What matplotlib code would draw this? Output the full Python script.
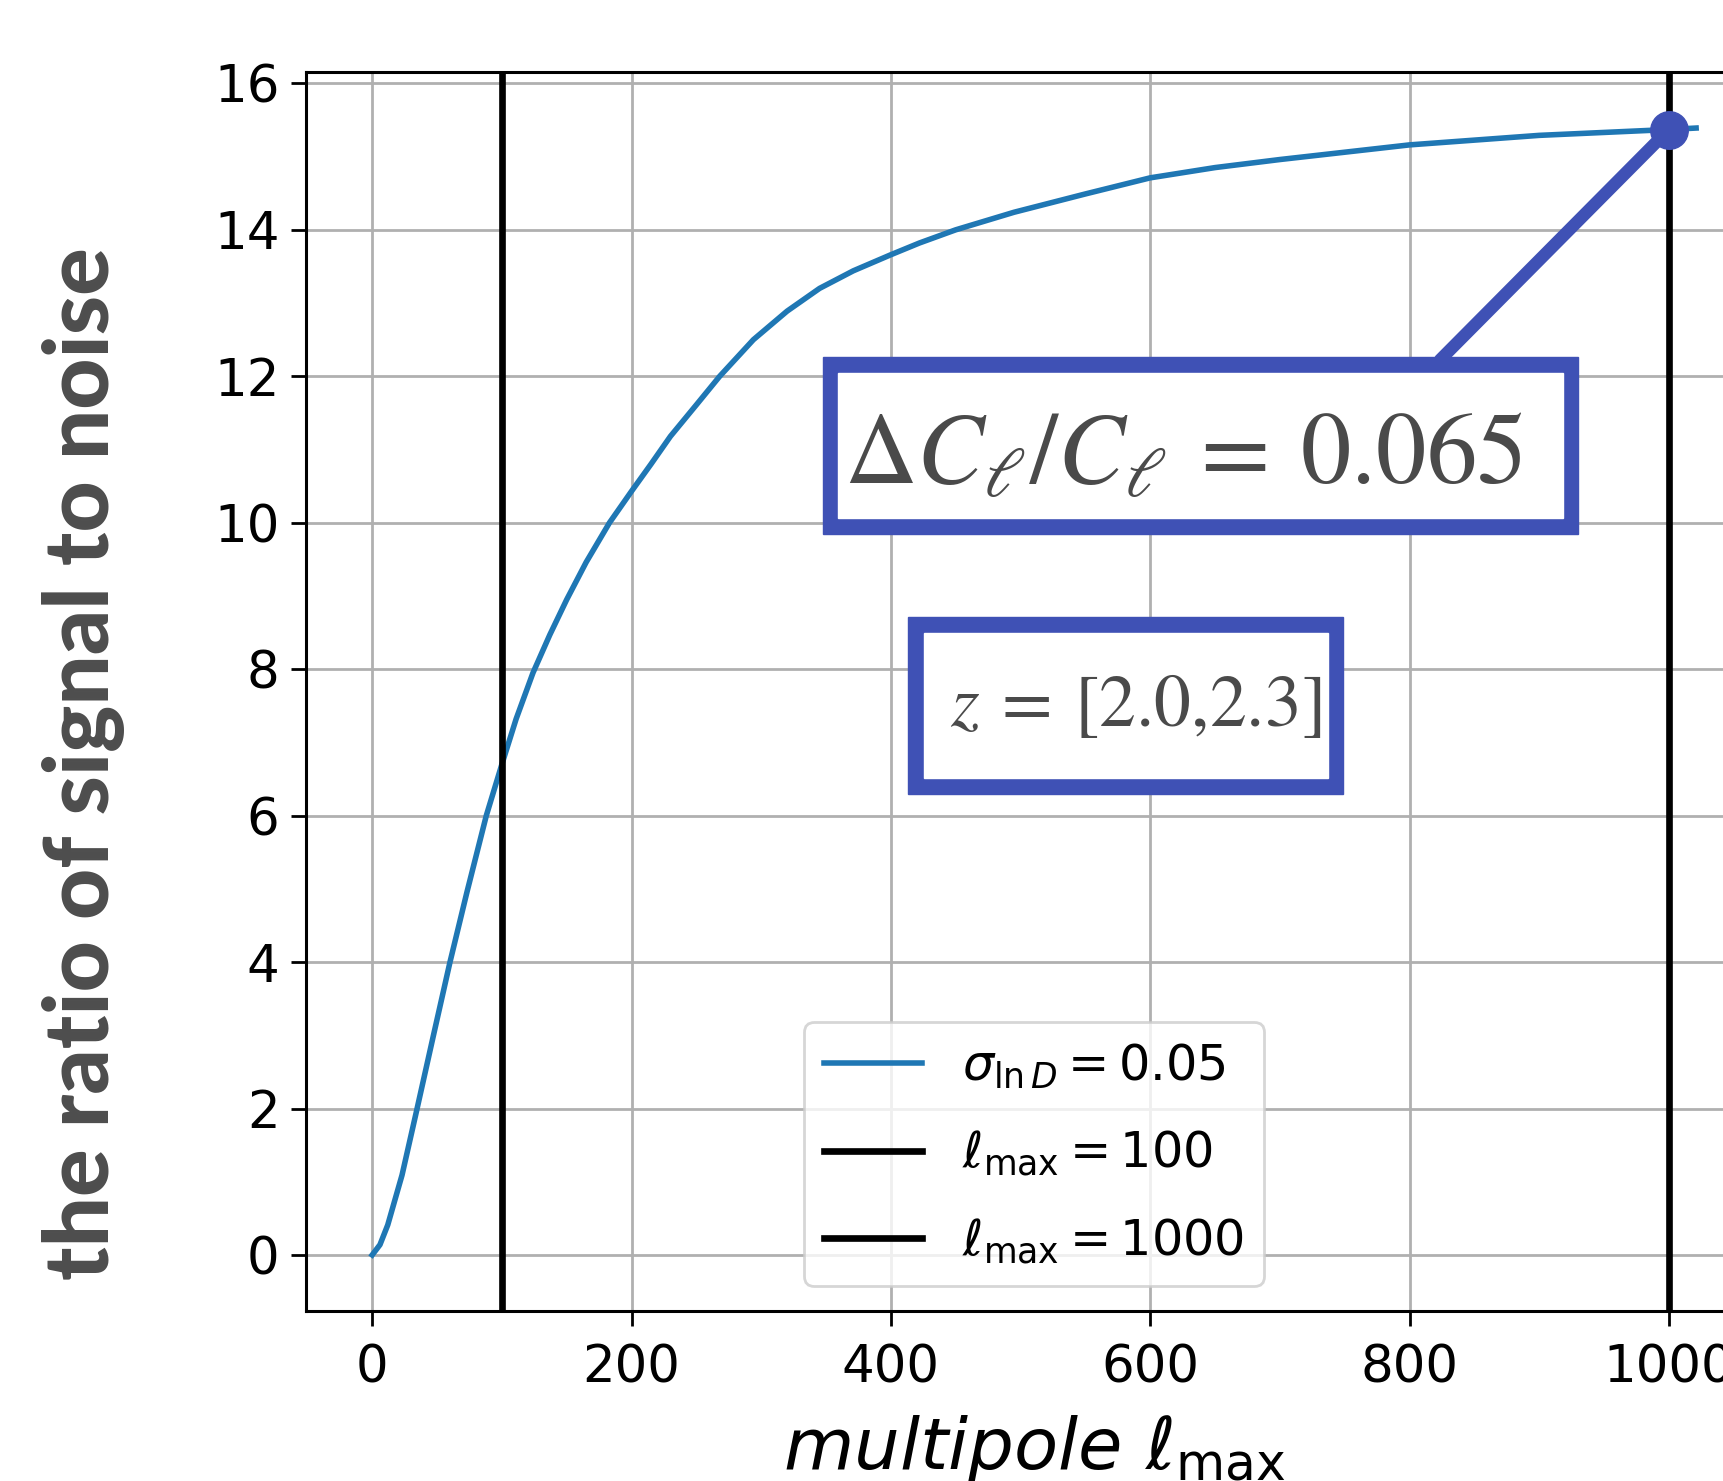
import matplotlib
matplotlib.use("Agg")
import matplotlib.pyplot as plt
import matplotlib.patches as patches

# signal-to-noise curve
ell = [0, 6, 12, 23, 34, 47, 60, 73, 88, 100, 111, 124, 137, 150, 165, 183,
       200, 215, 230, 250, 268, 294, 320, 345, 371, 400, 422, 450, 495, 550,
       600, 650, 700, 800, 900, 1000, 1021]
snr = [0, 0.14, 0.41, 1.09, 1.95, 2.98, 4.0, 4.95, 6.0, 6.7, 7.32, 7.95, 8.47,
       8.95, 9.46, 10.0, 10.43, 10.8, 11.18, 11.61, 12.0, 12.5, 12.89, 13.2,
       13.44, 13.66, 13.82, 14.0, 14.24, 14.49, 14.71, 14.85, 14.96, 15.16,
       15.29, 15.37, 15.39]

ell_cuts = [100, 1000]
snr_at_cut = 15.37
curve_label = r'$\sigma_{\ln D} = 0.05$'
cut_labels = [r'$\ell_{\max} = 100$', r'$\ell_{\max} = 1000$']
xticks = [0, 200, 400, 600, 800, 1000]
yticks = [0, 2, 4, 6, 8, 10, 12, 14, 16]

W, H = 1724, 1481
blue = "#3f51b5"
grey_text = "#4a4a4a"

fig = plt.figure(figsize=(W / 100, H / 100), dpi=100)
ax = fig.add_axes([306 / W, 1 - 1311.3 / H, 1456.3 / W, 1239.6 / H])

ax.plot(ell, snr, color="#1f77b4", lw=4.0, label=curve_label)
for c, lab in zip(ell_cuts, cut_labels):
    ax.axvline(c, color="k", lw=4.8, label=lab)
ax.plot([ell_cuts[1]], [snr_at_cut], "o", ms=27, color=blue, zorder=5)

ax.set_xticks(xticks)
ax.set_yticks(yticks)
ax.grid(True, color="#b0b0b0", lw=2)
ax.tick_params(labelsize=37, length=11, width=2)
ax.tick_params(axis="y", pad=8)
ax.tick_params(axis="x", pad=12)
for s in ax.spines.values():
    s.set_linewidth(2.2)

ax.set_xlabel(r'$multipole\ \ell_{\rm max}$', fontsize=52, labelpad=14)

leg = ax.legend(loc="lower left", bbox_to_anchor=(804 / W, 1 - 1286 / H),
                bbox_transform=fig.transFigure, borderaxespad=0, fontsize=35.5,
                labelspacing=0.78)
leg.get_frame().set_linewidth(2)

fig.text(84 / W, 1 - 764 / H, "the ratio of signal to noise", rotation=90,
         ha="center", va="center", fontsize=64, fontweight="black",
         family="Lato", color="#4d4d4d")

# connector from the l=1000 point to the box
ax.annotate("", xy=(ell_cuts[1], snr_at_cut), xycoords="data",
            xytext=(1440, H - 360), textcoords="figure pixels",
            arrowprops=dict(arrowstyle="-", color=blue, lw=9,
                            shrinkA=0, shrinkB=0))


def frame_box(outer, inner):
    for (x0, y0, x1, y1), col in ((outer, blue), (inner, "white")):
        fig.add_artist(patches.Rectangle((x0 / W, 1 - y1 / H), (x1 - x0) / W,
                                         (y1 - y0) / H, transform=fig.transFigure,
                                         color=col, zorder=2))


frame_box((823, 357, 1578, 534), (838, 373, 1563, 518))
frame_box((908, 617, 1343, 794), (924, 633, 1328, 778))

fig.text(1183 / W, 1 - 484 / H, r'$\Delta C_\ell / C_\ell\:=\:0.065$',
         math_fontfamily="stix", fontsize=72.5, color=grey_text,
         ha="center", va="baseline", zorder=3)
fig.text(1136 / W, 1 - 726 / H, r'$z\:=\:[2.0{,}2.3]$',
         math_fontfamily="stix", fontsize=53, color=grey_text,
         ha="center", va="baseline", zorder=3)

fig.savefig("out.png", dpi=100)
